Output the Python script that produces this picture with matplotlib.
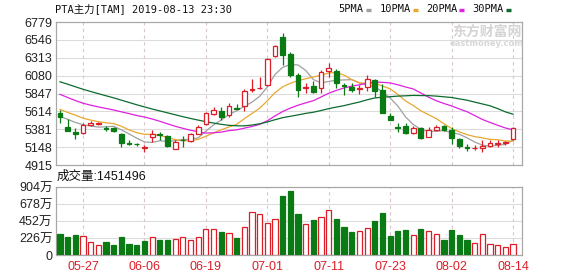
import matplotlib
matplotlib.use("Agg")
import matplotlib.pyplot as plt
from matplotlib.lines import Line2D
import numpy as np

# ---------------- data ----------------
opens = [5597, 5407, 5351, 5329, 5441, 5450, 5395, 5403, 5321, 5205,
         5190, 5140, 5278, 5325, 5295, 5122, 5243, 5230, 5321, 5450,
         5580, 5624, 5567, 5663, 5685, 5894, 5915, 5959, 6337, 6581,
         6359, 6089, 5915, 5946, 5915, 6145, 6140, 5959, 5937, 5905,
         5933, 6028, 5899, 5554, 5407, 5424, 5329, 5403, 5286, 5372,
         5424, 5372, 5252, 5148, 5135, 5135, 5165, 5195, 5200, 5252]
highs = [5632, 5510, 5394, 5459, 5489, 5480, 5424, 5416, 5330, 5243,
         5208, 5178, 5373, 5350, 5308, 5243, 5295, 5338, 5437, 5610,
         5666, 5667, 5720, 5711, 5902, 6033, 6059, 6307, 6481, 6633,
         6394, 6111, 5980, 6011, 6155, 6241, 6160, 5980, 5980, 5959,
         6084, 6041, 5976, 5588, 5459, 5459, 5424, 5415, 5415, 5437,
         5437, 5415, 5265, 5191, 5178, 5243, 5243, 5243, 5230, 5415]
lows = [5459, 5360, 5252, 5320, 5424, 5430, 5355, 5342, 5148, 5174,
        5165, 5079, 5221, 5243, 5148, 5122, 5148, 5213, 5321, 5437,
        5566, 5502, 5537, 5641, 5624, 5872, 5911, 5946, 6329, 6220,
        6068, 5806, 5850, 5850, 5850, 6068, 5915, 5828, 5872, 5841,
        5882, 5795, 5597, 5500, 5351, 5321, 5321, 5252, 5278, 5364,
        5364, 5191, 5135, 5092, 5114, 5079, 5148, 5148, 5180, 5243]
closes = [5536, 5364, 5321, 5437, 5459, 5465, 5385, 5355, 5200, 5195,
          5183, 5148, 5321, 5307, 5157, 5221, 5235, 5321, 5415, 5588,
          5628, 5546, 5689, 5650, 5885, 5902, 5924, 6294, 6468, 6350,
          6089, 5894, 5937, 5872, 6133, 6185, 5980, 5950, 5894, 5920,
          6041, 5882, 5597, 5502, 5400, 5329, 5394, 5264, 5372, 5415,
          5372, 5264, 5157, 5140, 5143, 5165, 5200, 5205, 5210, 5403]
# volume in 万 (10k lots)
volumes = [278, 243, 265, 251, 172, 132, 172, 132, 238, 146,
           137, 185, 234, 198, 198, 207, 243, 198, 243, 348,
           340, 300, 287, 220, 366, 578, 551, 419, 485, 781,
           847, 551, 406, 463, 507, 604, 476, 370, 304, 318,
           353, 450, 556, 251, 318, 331, 260, 344, 313, 273,
           198, 331, 260, 203, 154, 273, 141, 128, 106, 145.1496]

ma5 = [5550, 5510, 5470, 5440, 5423, 5409, 5413, 5420, 5373, 5320,
       5264, 5216, 5209, 5231, 5223, 5231, 5248, 5248, 5270, 5356,
       5438, 5500, 5574, 5621, 5680, 5734, 5810, 5931, 6095, 6188,
       6225, 6219, 6148, 6028, 5985, 6004, 6021, 6024, 6028, 5986,
       5957, 5937, 5867, 5788, 5684, 5542, 5444, 5378, 5352, 5355,
       5363, 5337, 5316, 5270, 5215, 5174, 5161, 5171, 5185, 5237]
ma10 = [5640, 5600, 5565, 5525, 5500, 5480, 5465, 5455, 5420, 5372,
        5336, 5315, 5315, 5302, 5272, 5247, 5232, 5229, 5250, 5290,
        5334, 5374, 5411, 5445, 5518, 5586, 5655, 5752, 5858, 5934,
        5980, 6015, 6039, 6062, 6086, 6115, 6120, 6086, 6028, 5985,
        5981, 5979, 5945, 5908, 5835, 5750, 5691, 5622, 5570, 5520,
        5453, 5391, 5347, 5311, 5285, 5269, 5249, 5244, 5228, 5226]
ma20 = [5836, 5795, 5755, 5720, 5695, 5672, 5652, 5632, 5608, 5585,
        5560, 5540, 5515, 5485, 5452, 5420, 5393, 5368, 5348, 5331,
        5335, 5344, 5363, 5373, 5395, 5417, 5444, 5491, 5555, 5612,
        5657, 5694, 5725, 5753, 5802, 5850, 5888, 5919, 5943, 5960,
        5980, 5997, 5992, 5985, 5961, 5932, 5906, 5854, 5799, 5753,
        5717, 5685, 5646, 5610, 5560, 5509, 5470, 5433, 5398, 5373]
ma30 = [6000, 5968, 5935, 5902, 5873, 5845, 5817, 5790, 5760, 5730,
        5700, 5672, 5645, 5620, 5595, 5570, 5545, 5522, 5500, 5480,
        5462, 5445, 5432, 5426, 5425, 5436, 5452, 5476, 5505, 5532,
        5550, 5568, 5588, 5603, 5625, 5650, 5670, 5689, 5713, 5736,
        5765, 5789, 5799, 5805, 5813, 5817, 5822, 5820, 5819, 5813,
        5804, 5795, 5777, 5760, 5735, 5711, 5687, 5650, 5608, 5577]

price_ticks = [4915, 5148, 5381, 5614, 5847, 6080, 6313, 6546, 6779]
vol_ticks = [0, 226, 452, 678, 904]
vol_tick_labels = ["0", "226万", "452万", "678万", "904万"]
date_tick_pos = [3, 11, 19, 27, 35, 43, 51, 59]
date_tick_labels = ["05-27", "06-06", "06-19", "07-01", "07-11", "07-23", "08-02", "08-14"]

title_text = "PTA主力[TAM] 2019-08-13 23:30"
legend_names = ["5PMA", "10PMA", "20PMA", "30PMA"]
vol_label = "成交量:1451496"

# ---------------- style ----------------
RED = "#dc1e28"
GREEN = "#0a7a14"
MA_COLORS = ["#a0a0a0", "#e8a830", "#e020e0", "#0d6b2e"]
GRID = "#dcdcdc"
VGRID = "#d8c8cc"
SPINE = "#a8a8a8"

W, H = 578, 276
fig = plt.figure(figsize=(W / 100, H / 100), dpi=100)
fig.patch.set_facecolor("white")


def px_box(l, t, r, b):
    return [l / W, 1 - b / H, (r - l) / W, (b - t) / H]


ax = fig.add_axes(px_box(56, 22, 522, 165))
axv = fig.add_axes(px_box(56, 187, 522, 255))

n = len(closes)
x = np.arange(n)
xlim = (-0.52, 60.17)

o = np.array(opens, float)
c = np.array(closes, float)
h = np.array(highs, float)
l = np.array(lows, float)
up = c >= o

# wicks
ax.vlines(x[up], l[up], h[up], color=RED, lw=0.9, zorder=3)
ax.vlines(x[~up], l[~up], h[~up], color=GREEN, lw=0.9, zorder=3)
# bodies
bw = 0.62
body_bottom = np.minimum(o, c)
body_h = np.maximum(np.abs(c - o), 3)
ax.bar(x[up], body_h[up], bottom=body_bottom[up], width=bw,
       facecolor="white", edgecolor=RED, lw=0.9, zorder=4)
ax.bar(x[~up], body_h[~up], bottom=body_bottom[~up], width=bw,
       facecolor=GREEN, edgecolor=GREEN, lw=0.9, zorder=4)

# moving averages
for vals, col in zip([ma5, ma10, ma20, ma30], MA_COLORS):
    ax.plot(x, vals, color=col, lw=0.9, zorder=2)

ax.set_xlim(*xlim)
ax.set_ylim(price_ticks[0], price_ticks[-1])
ax.set_yticks(price_ticks)
ax.set_yticklabels([str(t) for t in price_ticks], fontfamily="Liberation Sans",
                   fontsize=9, color="#222222")
ax.set_xticks([])
ax.tick_params(axis="y", length=0, pad=2.5)
for t in price_ticks[1:-1]:
    ax.axhline(t, color=GRID, lw=0.8, zorder=0)
for p in date_tick_pos:
    ax.axvline(p, color=VGRID, lw=0.8, ls=(0, (3, 3)), zorder=0)

# volume: colour by close vs previous close
vol_up = [c[0] >= o[0]] + [c[i] >= c[i - 1] for i in range(1, n)]
vol_up = np.array(vol_up)
v = np.array(volumes, float)
vbw = 0.68
axv.bar(x[vol_up], v[vol_up], width=vbw, facecolor="white", edgecolor=RED, lw=0.9, zorder=3)
axv.bar(x[~vol_up], v[~vol_up], width=vbw, facecolor=GREEN, edgecolor=GREEN, lw=0.9, zorder=3)
axv.set_xlim(*xlim)
axv.set_ylim(0, vol_ticks[-1])
axv.set_yticks(vol_ticks)
axv.set_yticklabels(vol_tick_labels, fontfamily=["Liberation Sans", "Noto Sans CJK SC"],
                    fontsize=9, color="#222222")
axv.set_xticks(date_tick_pos)
axv.set_xticklabels(date_tick_labels, fontfamily="Liberation Sans", fontsize=9, color=RED)
axv.tick_params(axis="both", length=0)
axv.tick_params(axis="y", pad=2.5)
axv.tick_params(axis="x", pad=4)
for t in vol_ticks[1:-1]:
    axv.axhline(t, color=GRID, lw=0.8, zorder=0)
for p in date_tick_pos:
    axv.axvline(p, color=VGRID, lw=0.8, ls=(0, (3, 3)), zorder=0)

for a in (ax, axv):
    for s in a.spines.values():
        s.set_color(SPINE)
        s.set_linewidth(0.9)

# ---------------- texts ----------------
mono = ["DejaVu Sans Mono", "Noto Sans CJK SC"]
fig.text(55 / W, 1 - 9 / H, title_text, fontfamily=mono, fontsize=7.5,
         color="#111111", va="center", ha="left")

leg_text_x = [338, 380, 426, 472]
leg_dash_x = [366, 413, 459, 506]
for name, tx, dx, col in zip(legend_names, leg_text_x, leg_dash_x, MA_COLORS):
    fig.text(tx / W, 1 - 9 / H, name, fontfamily=mono, fontsize=7.5,
             color="#111111", va="center", ha="left")
    fig.add_artist(Line2D([dx / W, (dx + 5) / W], [1 - 9.5 / H, 1 - 9.5 / H],
                          color=col, lw=2.4, solid_capstyle="butt"))

fig.text(57 / W, 1 - 177 / H, vol_label, fontfamily=["Liberation Sans", "Noto Sans CJK SC"],
         fontsize=9, color="#111111", va="center", ha="left")

# watermark
fig.text(487 / W, 1 - 32 / H, "东方财富网", fontfamily="Noto Sans CJK SC", fontsize=10,
         fontweight="bold", color="#d4d4d4", va="center", ha="center", zorder=1)
fig.text(487 / W, 1 - 43 / H, "eastmoney.com", fontfamily="DejaVu Sans", fontsize=6,
         fontweight="bold", color="#d8d8d8", va="center", ha="center", zorder=1)

fig.savefig("out.png", dpi=100, facecolor="white")
